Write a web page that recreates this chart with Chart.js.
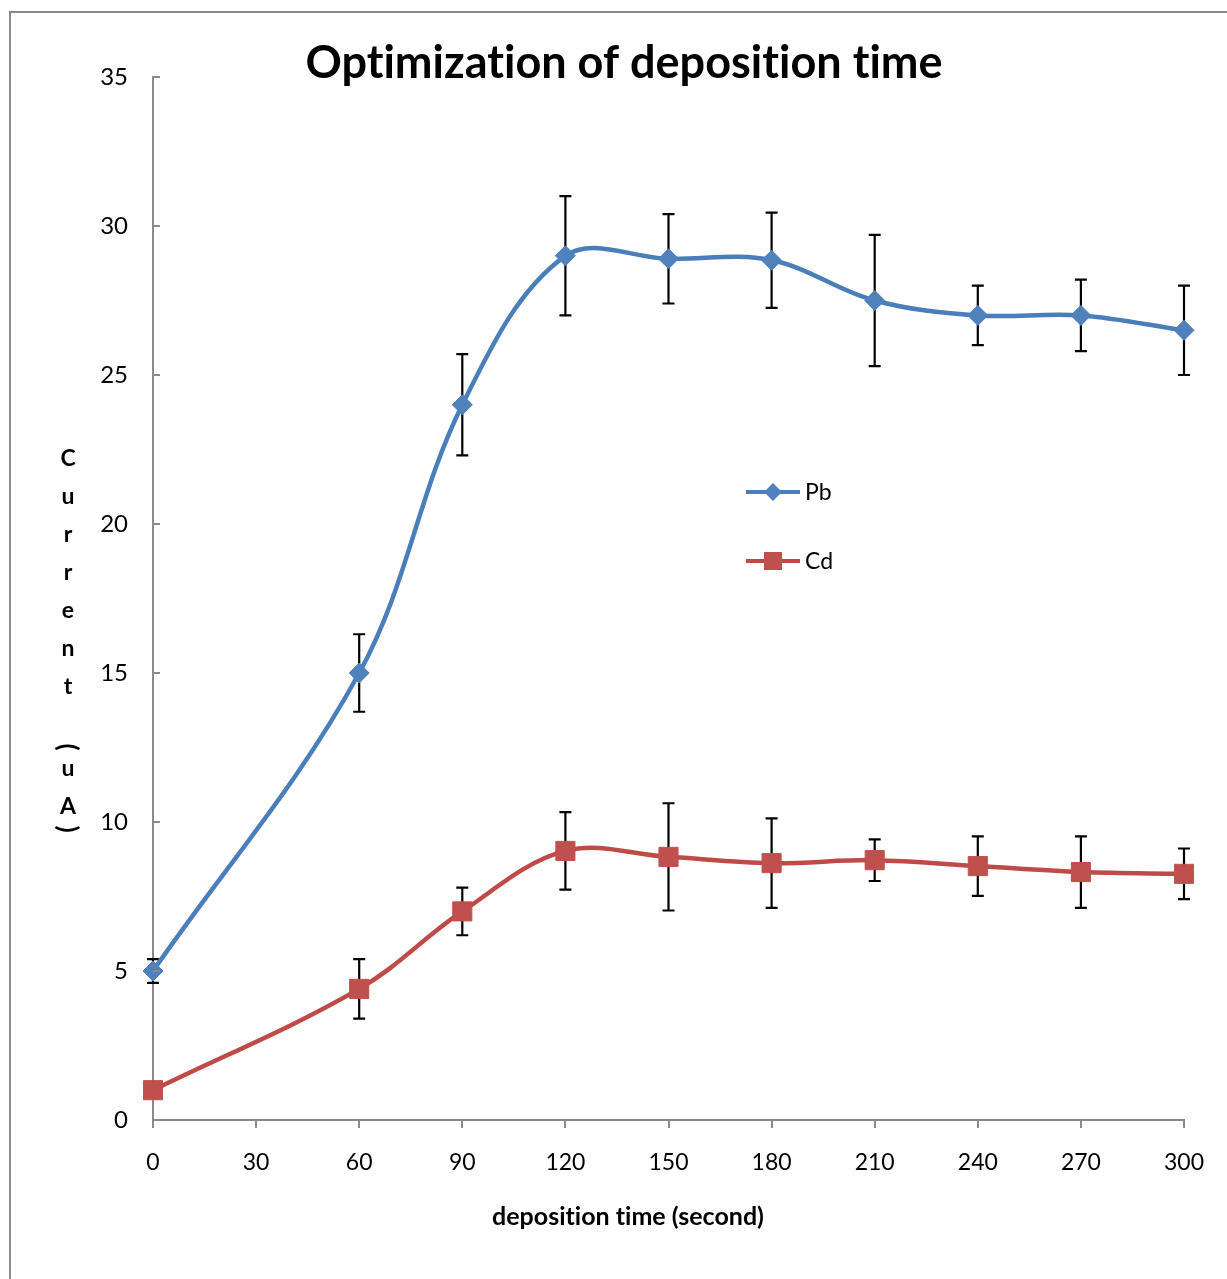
<!DOCTYPE html>
<html>
<head>
<meta charset="utf-8">
<script src="https://cdn.jsdelivr.net/npm/chart.js@4.4.0/dist/chart.umd.min.js"></script>
<style>
  html, body { margin: 0; padding: 0; background: #fff; }
  #wrap { width: 1227px; height: 1279px; position: relative; }
</style>
</head>
<body>
<div id="wrap"><canvas id="depChart"></canvas></div>
<script>
// deposition time (s)
var times = [0, 60, 90, 120, 150, 180, 210, 240, 270, 300];
// peak current (uA)
var pbValues = [5.0, 15.0, 24.0, 29.0, 28.9, 28.85, 27.5, 27.0, 27.0, 26.5];
var cdValues = [1.0, 4.4, 7.0, 9.03, 8.83, 8.62, 8.72, 8.52, 8.32, 8.26];
// +/- error
var pbErrors = [0.4, 1.3, 1.7, 2.0, 1.5, 1.6, 2.2, 1.0, 1.2, 1.5];
var cdErrors = [0.2, 1.0, 0.8, 1.3, 1.8, 1.5, 0.7, 1.0, 1.2, 0.85];
var xTicks = [0, 30, 60, 90, 120, 150, 180, 210, 240, 270, 300];
var yTicks = [0, 5, 10, 15, 20, 25, 30, 35];

var chartTitle = 'Optimization of deposition time';
var xTitle = 'deposition time (second)';
var yTitle = 'Current (uA)';

var FONT = 'Lato, "Open Sans", sans-serif';

function toPoints(xs, ys) {
    return xs.map(function (x, i) { return { x: x, y: ys[i] }; });
}

var errorBars = {
    id: 'errorBars',
    beforeDatasetsDraw: function (chart) {
        var ctx = chart.ctx;
        var xs = chart.scales.x, ys = chart.scales.y;
        ctx.save();
        ctx.strokeStyle = '#000';
        ctx.lineWidth = 2.2;
        chart.data.datasets.forEach(function (ds) {
            ds.data.forEach(function (p, i) {
                var e = ds.errors[i];
                var px = xs.getPixelForValue(p.x);
                var top = ys.getPixelForValue(p.y + e);
                var bot = ys.getPixelForValue(p.y - e);
                ctx.beginPath();
                ctx.moveTo(px, top); ctx.lineTo(px, bot);
                ctx.moveTo(px - 6, top); ctx.lineTo(px + 6, top);
                ctx.moveTo(px - 6, bot); ctx.lineTo(px + 6, bot);
                ctx.stroke();
            });
        });
        ctx.restore();
    }
};

var decorations = {
    id: 'decorations',
    beforeDraw: function (chart) {
        var ctx = chart.ctx;
        ctx.save();
        ctx.fillStyle = '#fff';
        ctx.fillRect(0, 0, chart.width, chart.height);
        ctx.strokeStyle = '#8a8a8a';
        ctx.lineWidth = 2;
        ctx.strokeRect(10, 12, chart.width + 20, chart.height + 20);
        ctx.restore();
    },
    afterDraw: function (chart) {
        var ctx = chart.ctx;
        var area = chart.chartArea;
        var ys = chart.scales.y;
        ctx.save();

        // y tick marks, inside the plot
        ctx.strokeStyle = '#8a8a8a';
        ctx.lineWidth = 2;
        yTicks.forEach(function (v) {
            var py = Math.round(ys.getPixelForValue(v));
            ctx.beginPath();
            ctx.moveTo(area.left, py);
            ctx.lineTo(area.left + 7, py);
            ctx.stroke();
        });

        ctx.fillStyle = '#000';
        ctx.textAlign = 'center';
        ctx.textBaseline = 'middle';
        ctx.letterSpacing = '0.01px';

        // title
        ctx.font = 'bold 45px ' + FONT;
        ctx.fillText(chartTitle, 624, 63);

        // x title
        ctx.font = 'bold 25px ' + FONT;
        ctx.fillText(xTitle, 628, 1217);

        // y title, letters stacked, brackets turned
        ctx.font = 'bold 23px ' + FONT;
        var y = 459;
        var chars = yTitle.split('');
        chars.forEach(function (c, i) {
            if (c === '(' || c === ')') {
                ctx.save();
                ctx.translate(68, y);
                ctx.rotate(Math.PI / 2);
                ctx.font = 'bold 26px ' + FONT;
                ctx.fillText(c, 0, 1);
                ctx.restore();
            } else if (c !== ' ') {
                ctx.fillText(c, 68, y);
            }
            var next = chars[i + 1];
            var narrow = (c === '(' || c === ')' || next === '(' || next === ')');
            y += narrow ? 22 : 38;
        });

        // legend
        chart.data.datasets.forEach(function (ds, i) {
            var ly = 492 + i * 69;
            ctx.strokeStyle = ds.borderColor;
            ctx.lineWidth = 4;
            ctx.beginPath();
            ctx.moveTo(746, ly); ctx.lineTo(800, ly);
            ctx.stroke();
            ctx.fillStyle = ds.pointBackgroundColor;
            ctx.beginPath();
            if (ds.pointStyle === 'rectRot') {
                ctx.moveTo(773 - 9, ly); ctx.lineTo(773, ly - 9);
                ctx.lineTo(773 + 9, ly); ctx.lineTo(773, ly + 9);
                ctx.closePath();
            } else {
                ctx.rect(773 - 9, ly - 9, 18, 18);
            }
            ctx.fill();
            ctx.fillStyle = '#000';
            ctx.textAlign = 'left';
            ctx.font = '23px ' + FONT;
            ctx.fillText(ds.label, 805, ly + 1);
        });

        ctx.restore();
    }
};

var ctx = document.getElementById('depChart').getContext('2d');
var chart = new Chart(ctx, {
    type: 'scatter',
    data: {
        datasets: [{
            label: 'Pb',
            data: toPoints(times, pbValues),
            errors: pbErrors,
            showLine: true,
            clip: false,
            borderColor: '#4a7ebb',
            borderWidth: 4.5,
            tension: 0.36,
            pointStyle: 'rectRot',
            pointRadius: 10,
            pointBackgroundColor: '#4f81bd',
            pointBorderColor: '#4f81bd',
            pointBorderWidth: 1
        },
        {
            label: 'Cd',
            data: toPoints(times, cdValues),
            errors: cdErrors,
            showLine: true,
            clip: false,
            borderColor: '#be4b48',
            borderWidth: 4.5,
            tension: 0.36,
            pointStyle: 'rect',
            pointRadius: 13.5,
            pointBackgroundColor: '#c0504d',
            pointBorderColor: '#c0504d',
            pointBorderWidth: 1
        }]
    },
    options: {
        responsive: true,
        maintainAspectRatio: false,
        animation: false,
        layout: { padding: { top: 77, right: 43, bottom: 0, left: 0 } },
        plugins: {
            legend: { display: false },
            tooltip: { enabled: false },
            title: { display: false }
        },
        scales: {
            x: {
                type: 'linear',
                min: 0,
                max: 300,
                afterFit: function (s) { s.height = 159; },
                afterBuildTicks: function (s) { s.ticks = xTicks.map(function (v) { return { value: v }; }); },
                grid: { display: true, drawOnChartArea: false, drawTicks: true, tickLength: 8, color: '#8a8a8a', lineWidth: 2 },
                border: { display: true, color: '#8a8a8a', width: 2 },
                ticks: { color: '#000', font: { family: FONT, size: 23 }, padding: 21, maxRotation: 0, autoSkip: false }
            },
            y: {
                min: 0,
                max: 35,
                afterFit: function (s) { s.width = 153; },
                afterBuildTicks: function (s) { s.ticks = yTicks.map(function (v) { return { value: v }; }); },
                grid: { display: false },
                border: { display: true, color: '#8a8a8a', width: 2 },
                ticks: { color: '#000', font: { family: FONT, size: 24 }, padding: 17 }
            }
        }
    },
    plugins: [errorBars, decorations]
});
</script>
</body>
</html>
